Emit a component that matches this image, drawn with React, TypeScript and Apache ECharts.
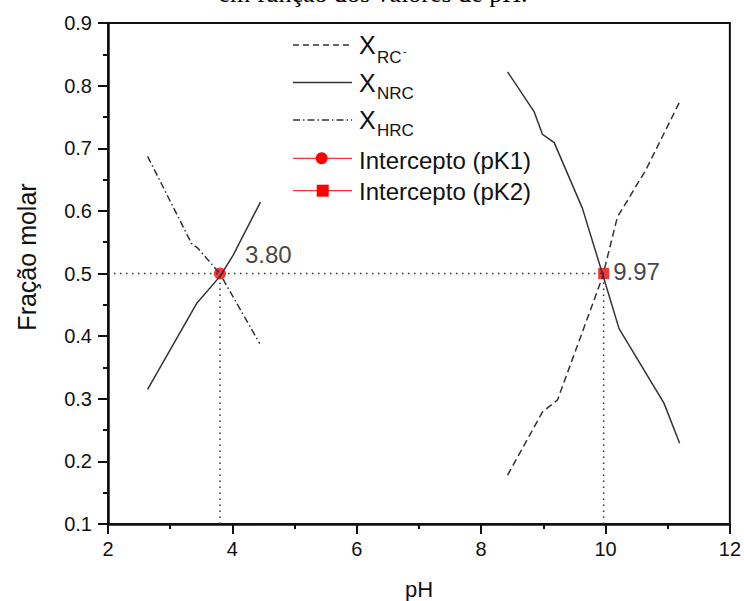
import React, { useEffect, useRef } from "react";
import * as echarts from "echarts";

// pH values and molar fractions
const hrcPH = [2.637, 3.343, 3.449, 3.798, 4.44];
const hrcX = [0.687, 0.548, 0.54, 0.5, 0.388];

const nrcLeftPH = [2.637, 3.424, 3.798, 4.011, 4.451];
const nrcLeftX = [0.315, 0.452, 0.495, 0.529, 0.614];

const nrcRightPH = [8.425, 8.854, 8.987, 9.175, 9.629, 9.95, 10.218, 10.94, 11.192];
const nrcRightX = [0.822, 0.758, 0.722, 0.709, 0.604, 0.5, 0.412, 0.293, 0.229];

const rcPH = [8.425, 8.987, 9.228, 9.95, 10.191, 10.647, 11.192];
const rcX = [0.178, 0.279, 0.298, 0.494, 0.59, 0.665, 0.774];

const pK1 = [3.8, 0.5];
const pK2 = [9.97, 0.5];
const pK1Label = "3.80";
const pK2Label = "9.97";

const xTicks = { min: 2, max: 12, interval: 2 };
const yTicks = { min: 0.1, max: 0.9, interval: 0.1 };

const zip = (a: number[], b: number[]) => a.map((v, i) => [v, b[i]]);

const FONT = "'Liberation Sans', Arial, sans-serif";
const INK = "#333333";
const AX = "#111111";

export default function App() {
  const ref = useRef<HTMLDivElement>(null);
  useEffect(() => {
    if (!ref.current) return;
    const chart = echarts.init(ref.current, null, { renderer: "svg" });
    const dotted = {
      type: "line",
      symbol: "none",
      silent: true,
      lineStyle: { color: INK, width: 1.5, type: [1.5, 4.5] },
    };
    const legX1 = 293;
    const legX2 = 352;
    const txtX = 359;
    const tickStyle = { color: AX, width: 2 };
    chart.setOption({
      animation: false,
      grid: {
        left: 108,
        right: 13,
        top: 23,
        bottom: 77,
        show: true,
        borderColor: AX,
        borderWidth: 2,
      },
      xAxis: {
        type: "value",
        min: xTicks.min,
        max: xTicks.max,
        interval: xTicks.interval,
        axisLine: { lineStyle: { color: AX, width: 2.5 } },
        axisTick: { show: true, inside: false, length: 10, lineStyle: tickStyle },
        minorTick: { show: true, splitNumber: 2, length: 5, lineStyle: tickStyle },
        splitLine: { show: false },
        axisLabel: { color: "#111", fontSize: 20, fontFamily: FONT, margin: 15 },
      },
      yAxis: {
        type: "value",
        min: yTicks.min,
        max: yTicks.max,
        interval: yTicks.interval,
        axisLine: { show: true, lineStyle: { color: AX, width: 2.5 } },
        axisTick: { show: true, inside: false, length: 10, lineStyle: tickStyle },
        minorTick: { show: true, splitNumber: 2, length: 5, lineStyle: tickStyle },
        splitLine: { show: false },
        axisLabel: {
          color: "#111",
          fontSize: 20,
          fontFamily: FONT,
          margin: 16,
          formatter: (v: number) => v.toFixed(1),
        },
      },
      series: [
        { ...dotted, data: [[xTicks.min, pK1[1]], [pK2[0], pK2[1]]] },
        { ...dotted, data: [[pK1[0], yTicks.min], [pK1[0], pK1[1]]] },
        { ...dotted, data: [[pK2[0], yTicks.min], [pK2[0], pK2[1]]] },
        {
          type: "line",
          symbol: "none",
          data: zip(rcPH, rcX),
          lineStyle: { color: INK, width: 1.5, type: [7, 4] },
        },
        {
          type: "line",
          symbol: "none",
          data: zip(nrcLeftPH, nrcLeftX),
          lineStyle: { color: INK, width: 1.5 },
        },
        {
          type: "line",
          symbol: "none",
          data: zip(nrcRightPH, nrcRightX),
          lineStyle: { color: INK, width: 1.5 },
        },
        {
          type: "line",
          symbol: "none",
          data: zip(hrcPH, hrcX),
          lineStyle: { color: INK, width: 1.5, type: [7, 3, 1.5, 3] },
        },
        {
          type: "scatter",
          symbol: "circle",
          symbolSize: 12,
          itemStyle: { color: "#ff0000" },
          data: [pK1],
          label: {
            show: true,
            position: "right",
            distance: 19,
            offset: [0, -19],
            formatter: pK1Label,
            color: "#111",
            fontSize: 24,
            fontFamily: FONT,
          },
        },
        {
          type: "scatter",
          symbol: "rect",
          symbolSize: 11,
          itemStyle: { color: "#ff0000" },
          data: [pK2],
          label: {
            show: true,
            position: "right",
            distance: 4,
            offset: [0, -2],
            formatter: pK2Label,
            color: "#111",
            fontSize: 24,
            fontFamily: FONT,
          },
        },
      ],
      graphic: [
        // clipped caption at the top
        {
          type: "text",
          x: 373,
          y: 6,
          style: {
            text: "em função dos valores de pH.",
            fontSize: 26,
            fontFamily: "'Liberation Serif', 'Times New Roman', serif",
            fill: "#000",
            align: "center",
            verticalAlign: "bottom",
          },
        },
        // axis names
        {
          type: "text",
          x: 27,
          y: 257,
          rotation: Math.PI / 2,
          style: {
            text: "Fração molar",
            fontSize: 25,
            fontFamily: FONT,
            fill: "#111",
            align: "center",
            verticalAlign: "middle",
          },
        },
        {
          type: "text",
          x: 419,
          y: 589,
          style: {
            text: "pH",
            fontSize: 22,
            fontFamily: FONT,
            fill: "#111",
            align: "center",
            verticalAlign: "middle",
          },
        },
        // legend
        {
          type: "line",
          shape: { x1: legX1, y1: 45, x2: legX2, y2: 45 },
          style: { stroke: INK, lineWidth: 1.5, lineDash: [6, 4] },
        },
        { type: "text", x: txtX, y: 45, style: { text: "X", fontSize: 25, fontFamily: FONT, fill: "#111", verticalAlign: "middle" } },
        { type: "text", x: txtX + 18, y: 57, style: { text: "RC", fontSize: 17, fontFamily: FONT, fill: "#111", verticalAlign: "middle" } },
        { type: "text", x: txtX + 44, y: 51, style: { text: "-", fontSize: 11, fontFamily: FONT, fill: "#111", verticalAlign: "middle" } },
        {
          type: "line",
          shape: { x1: legX1, y1: 82.5, x2: legX2, y2: 82.5 },
          style: { stroke: INK, lineWidth: 1.5 },
        },
        { type: "text", x: txtX, y: 82.5, style: { text: "X", fontSize: 25, fontFamily: FONT, fill: "#111", verticalAlign: "middle" } },
        { type: "text", x: txtX + 18, y: 93, style: { text: "NRC", fontSize: 17, fontFamily: FONT, fill: "#111", verticalAlign: "middle" } },
        {
          type: "line",
          shape: { x1: legX1, y1: 120, x2: legX2, y2: 120 },
          style: { stroke: INK, lineWidth: 1.5, lineDash: [7, 3, 1.5, 3] },
        },
        { type: "text", x: txtX, y: 120, style: { text: "X", fontSize: 25, fontFamily: FONT, fill: "#111", verticalAlign: "middle" } },
        { type: "text", x: txtX + 18, y: 130, style: { text: "HRC", fontSize: 17, fontFamily: FONT, fill: "#111", verticalAlign: "middle" } },
        {
          type: "line",
          shape: { x1: legX1, y1: 158.3, x2: legX2, y2: 158.3 },
          style: { stroke: "#ff0000", lineWidth: 1 },
        },
        { type: "circle", shape: { cx: 321.7, cy: 158.3, r: 6 }, style: { fill: "#ff0000" } },
        { type: "text", x: txtX, y: 160, style: { text: "Intercepto (pK1)", fontSize: 24, fontFamily: FONT, fill: "#111", verticalAlign: "middle" } },
        {
          type: "line",
          shape: { x1: legX1, y1: 190.7, x2: legX2, y2: 190.7 },
          style: { stroke: "#ff0000", lineWidth: 1 },
        },
        { type: "rect", shape: { x: 316.7, y: 184.7, width: 12, height: 12 }, style: { fill: "#ff0000" } },
        { type: "text", x: txtX, y: 191, style: { text: "Intercepto (pK2)", fontSize: 24, fontFamily: FONT, fill: "#111", verticalAlign: "middle" } },
      ],
    });
    return () => chart.dispose();
  }, []);
  return <div ref={ref} style={{ width: 744, height: 601, position: "absolute", left: 0, top: 0 }} />;
}
